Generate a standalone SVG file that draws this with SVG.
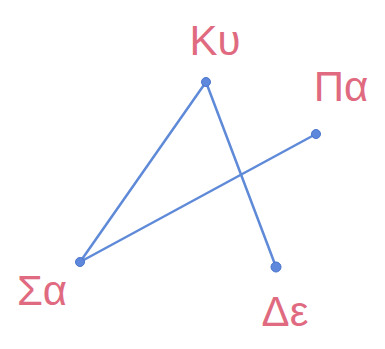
<svg xmlns="http://www.w3.org/2000/svg" width="385" height="349" viewBox="0 0 385 349">
<style>
.lbl{font-family:"Liberation Sans",Arial,sans-serif;font-size:42px;fill:#e06a80;text-anchor:middle}
.dot{fill:#5d88dc;stroke:#4a74cc;stroke-width:1}
.edge{stroke:#5f8ad8;stroke-width:2.5;fill:none;stroke-linecap:round}
</style>
<rect width="385" height="349" fill="#ffffff"/>
<g id="connectors">
<line class="edge" x1="206" y1="82" x2="80" y2="262"/>
<line class="edge" x1="80" y1="262" x2="316" y2="134"/>
<line class="edge" x1="206" y1="82" x2="276" y2="267"/>
</g>
<g id="Ku"><circle class="dot" cx="206" cy="82" r="4.5"/><text class="lbl" x="215" y="55">Κυ</text></g>
<g id="Pa"><circle class="dot" cx="316" cy="134" r="4.5"/><text class="lbl" x="341" y="101">Πα</text></g>
<g id="Sa"><circle class="dot" cx="80" cy="262" r="4.5"/><text class="lbl" x="42" y="305">Σα</text></g>
<g id="De"><circle class="dot" cx="276" cy="267" r="5"/><text class="lbl" x="285" y="326">Δε</text></g>
</svg>
